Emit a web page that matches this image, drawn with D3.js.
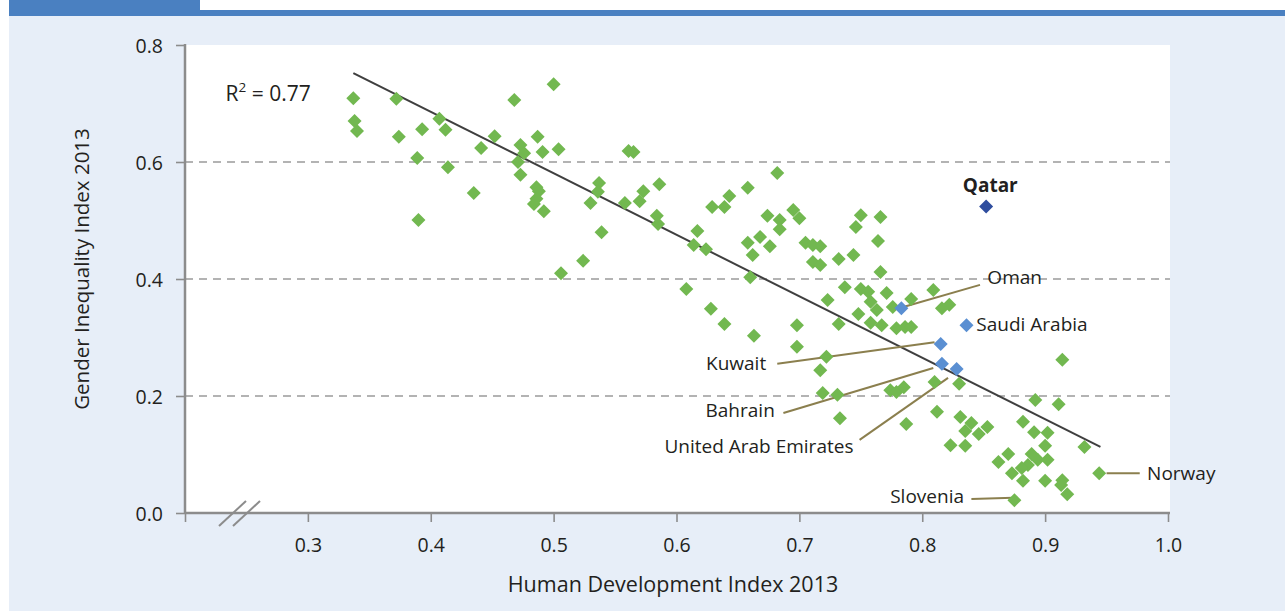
<!DOCTYPE html>
<html><head><meta charset="utf-8">
<script src="https://cdn.jsdelivr.net/npm/d3@7"></script>
<style>
html,body{margin:0;padding:0;background:#fff;}
svg{display:block;font-family:"Open Sans",sans-serif;}
</style></head><body>
<svg id="chart" width="1285" height="611"></svg>
<script>
// ---------- data ----------
const hdi = [0.337,0.338,0.340,0.372,0.374,0.389,0.390,0.393,0.407,0.412,0.414,0.435,0.441,0.452,0.468,0.473,0.476,0.471,0.473,0.487,0.491,0.500,0.504,0.486,0.488,0.486,0.484,0.492,0.506,0.524,0.530,0.537,0.536,0.539,0.561,0.565,0.558,0.570,0.573,0.586,0.584,0.585,0.608,0.617,0.614,0.624,0.629,0.639,0.643,0.658,0.682,0.674,0.684,0.684,0.695,0.700,0.658,0.668,0.676,0.662,0.660,0.705,0.711,0.717,0.711,0.717,0.732,0.744,0.750,0.766,0.746,0.764,0.766,0.628,0.639,0.663,0.698,0.698,0.722,0.717,0.719,0.731,0.733,0.723,0.737,0.750,0.756,0.771,0.758,0.763,0.748,0.776,0.791,0.809,0.816,0.822,0.732,0.758,0.767,0.779,0.786,0.791,0.774,0.779,0.785,0.787,0.810,0.812,0.830,0.914,0.892,0.911,0.831,0.840,0.853,0.846,0.835,0.823,0.835,0.882,0.891,0.902,0.900,0.932,0.870,0.862,0.889,0.894,0.902,0.886,0.881,0.873,0.882,0.900,0.914,0.913,0.918,0.944,0.875];
const gii = [0.709,0.670,0.653,0.708,0.643,0.607,0.501,0.656,0.674,0.655,0.591,0.547,0.624,0.644,0.706,0.629,0.615,0.600,0.578,0.643,0.617,0.733,0.622,0.557,0.550,0.537,0.528,0.516,0.410,0.431,0.530,0.564,0.549,0.480,0.619,0.617,0.530,0.533,0.550,0.562,0.508,0.494,0.383,0.482,0.458,0.451,0.523,0.523,0.542,0.556,0.581,0.508,0.501,0.485,0.518,0.504,0.462,0.472,0.456,0.441,0.403,0.462,0.458,0.456,0.429,0.424,0.434,0.441,0.509,0.506,0.489,0.465,0.412,0.349,0.323,0.303,0.321,0.284,0.267,0.244,0.205,0.202,0.162,0.364,0.386,0.383,0.378,0.376,0.361,0.347,0.340,0.352,0.366,0.381,0.350,0.356,0.323,0.325,0.321,0.316,0.318,0.318,0.210,0.207,0.215,0.152,0.224,0.173,0.221,0.262,0.193,0.186,0.164,0.154,0.147,0.135,0.140,0.116,0.115,0.156,0.138,0.137,0.115,0.113,0.101,0.087,0.101,0.091,0.091,0.082,0.077,0.068,0.055,0.055,0.056,0.048,0.032,0.068,0.022];

const gulfNames = ["Oman","Saudi Arabia","Kuwait","Bahrain","United Arab Emirates"];
const gulfHdi = [0.783,0.836,0.815,0.816,0.828];
const gulfGii = [0.350,0.321,0.289,0.255,0.246];

const qatarName = ["Qatar"];
const qatarHdi = [0.852];
const qatarGii = [0.524];

const trendHdi = [0.337,0.945];
const trendGii = [0.752,0.113];

const xTickValues = [0.2,0.3,0.4,0.5,0.6,0.7,0.8,0.9,1.0];
const xTickLabels = ["","0.3","0.4","0.5","0.6","0.7","0.8","0.9","1.0"];
const yTickValues = [0,0.2,0.4,0.6,0.8];
const yTickLabels = ["0.0","0.2","0.4","0.6","0.8"];
const gridValues = [0.2,0.4,0.6];

const xTitle = "Human Development Index 2013";
const yTitle = "Gender Inequality Index 2013";
const r2Text = "0.77";

// ---------- annotation layout (data coordinates) ----------
const annotations = [
  {text:"Qatar", tx:0.833, ty:0.548, anchor:"start", bold:true},
  {text:"Oman", tx:0.853, ty:0.391, anchor:"start", l:[0.786,0.353,0.847,0.390]},
  {text:"Saudi Arabia", tx:0.844, ty:0.311, anchor:"start"},
  {text:"Kuwait", tx:0.673, ty:0.244, anchor:"end", l:[0.682,0.255,0.810,0.292]},
  {text:"Bahrain", tx:0.680, ty:0.164, anchor:"end", l:[0.687,0.171,0.809,0.248]},
  {text:"United Arab Emirates", tx:0.744, ty:0.103, anchor:"end", l:[0.749,0.125,0.821,0.231]},
  {text:"Norway", tx:0.983, ty:0.056, anchor:"start", l:[0.950,0.068,0.977,0.068]},
  {text:"Slovenia", tx:0.834, ty:0.017, anchor:"end", l:[0.840,0.024,0.874,0.026]}
];

// ---------- drawing ----------
const svg = d3.select("#chart");
const W = 1285, H = 611;

// backgrounds
svg.append("rect").attr("x",9).attr("y",0).attr("width",W-9).attr("height",H).attr("fill","#e7eef8");
svg.append("rect").attr("x",9).attr("y",0).attr("width",191).attr("height",16).attr("fill","#4a80c1");
svg.append("rect").attr("x",200).attr("y",0).attr("width",W-200).attr("height",10).attr("fill","#ffffff");
svg.append("rect").attr("x",200).attr("y",10).attr("width",W-200).attr("height",6).attr("fill","#4a80c1");

const x = d3.scaleLinear().domain([0.2,1.0]).range([185,1168]);
const y = d3.scaleLinear().domain([0,0.8]).range([513,45]);

// plot area
svg.append("rect").attr("x",185).attr("y",45).attr("width",985).attr("height",468).attr("fill","#ffffff");

// gridlines
svg.append("g").selectAll("line").data(gridValues).join("line")
  .attr("x1",185).attr("x2",1170)
  .attr("y1",d=>y(d)).attr("y2",d=>y(d))
  .attr("stroke","#9b9b9b").attr("stroke-width",1.4).attr("stroke-dasharray","8,6");

// trend line
svg.append("line")
  .attr("x1",x(trendHdi[0])).attr("y1",y(trendGii[0]))
  .attr("x2",x(trendHdi[1])).attr("y2",y(trendGii[1]))
  .attr("stroke","#3f3f3f").attr("stroke-width",2);

// leader lines
svg.append("g").selectAll("line").data(annotations.filter(a=>a.l)).join("line")
  .attr("x1",a=>x(a.l[0])).attr("y1",a=>y(a.l[1]))
  .attr("x2",a=>x(a.l[2])).attr("y2",a=>y(a.l[3]))
  .attr("stroke","#8b7f4e").attr("stroke-width",2);

// points
const diamond = d3.symbol().type(d3.symbolSquare).size(98);
svg.append("g").selectAll("path").data(hdi.map((h,i)=>[h,gii[i]])).join("path")
  .attr("d",diamond)
  .attr("transform",d=>`translate(${x(d[0])},${y(d[1])}) rotate(45)`)
  .attr("fill","#72b850");
svg.append("g").selectAll("path").data(gulfHdi.map((h,i)=>[h,gulfGii[i]])).join("path")
  .attr("d",diamond)
  .attr("transform",d=>`translate(${x(d[0])},${y(d[1])}) rotate(45)`)
  .attr("fill","#5a8fd2");
svg.append("g").selectAll("path").data(qatarHdi.map((h,i)=>[h,qatarGii[i]])).join("path")
  .attr("d",diamond)
  .attr("transform",d=>`translate(${x(d[0])},${y(d[1])}) rotate(45)`)
  .attr("fill","#2f4d9e");

// axes
const axisColor = "#8c8c8c";
const xAxis = d3.axisBottom(x).tickValues(xTickValues)
  .tickFormat((d,i)=>xTickLabels[i]).tickSize(9).tickSizeOuter(0);
const gx = svg.append("g").attr("transform","translate(0,513)").call(xAxis);
gx.select(".domain").attr("stroke",axisColor).attr("stroke-width",2.5).attr("d","M185,0H1170");
gx.selectAll(".tick line").attr("stroke",axisColor).attr("stroke-width",1.6);
gx.selectAll(".tick text").attr("y",39).attr("dy",0)
  .attr("font-size",19.5).attr("fill","#231f20").attr("font-family","Open Sans");

const yAxis = d3.axisLeft(y).tickValues(yTickValues)
  .tickFormat((d,i)=>yTickLabels[i]).tickSize(9).tickSizeOuter(0);
const gy = svg.append("g").attr("transform","translate(185,0)").call(yAxis);
gy.select(".domain").attr("stroke",axisColor).attr("stroke-width",2.5).attr("d","M0,44V514");
gy.selectAll(".tick line").attr("stroke",axisColor).attr("stroke-width",1.6);
gy.selectAll(".tick text").attr("x",-22).attr("dy","0.38em")
  .attr("font-size",19.5).attr("fill","#231f20").attr("font-family","Open Sans");

// axis break marks
svg.append("g").selectAll("line").data([0,14]).join("line")
  .attr("x1",d=>219+d).attr("y1",526).attr("x2",d=>246+d).attr("y2",501)
  .attr("stroke",axisColor).attr("stroke-width",2);

// axis titles
svg.append("text").attr("x",673).attr("y",592).attr("text-anchor","middle")
  .attr("font-size",21.5).attr("fill","#231f20").text(xTitle);
svg.append("text").attr("transform","translate(89,269) rotate(-90)").attr("text-anchor","middle")
  .attr("font-size",20.5).attr("fill","#231f20").text(yTitle);

// R^2
const r2 = svg.append("text").attr("x",x(0.233)).attr("y",y(0.705))
  .attr("font-size",21).attr("fill","#231f20");
r2.append("tspan").text("R");
r2.append("tspan").attr("font-size",13.5).attr("dy",-9).text("2");
r2.append("tspan").attr("dy",9).text(" = " + r2Text);

// annotation texts
svg.append("g").selectAll("text").data(annotations).join("text")
  .attr("x",a=>x(a.tx)).attr("y",a=>y(a.ty))
  .attr("text-anchor",a=>a.anchor)
  .attr("font-size",19)
  .attr("font-weight",a=>a.bold?"bold":"normal")
  .attr("fill","#231f20")
  .text(a=>a.text);
</script>
</body></html>
